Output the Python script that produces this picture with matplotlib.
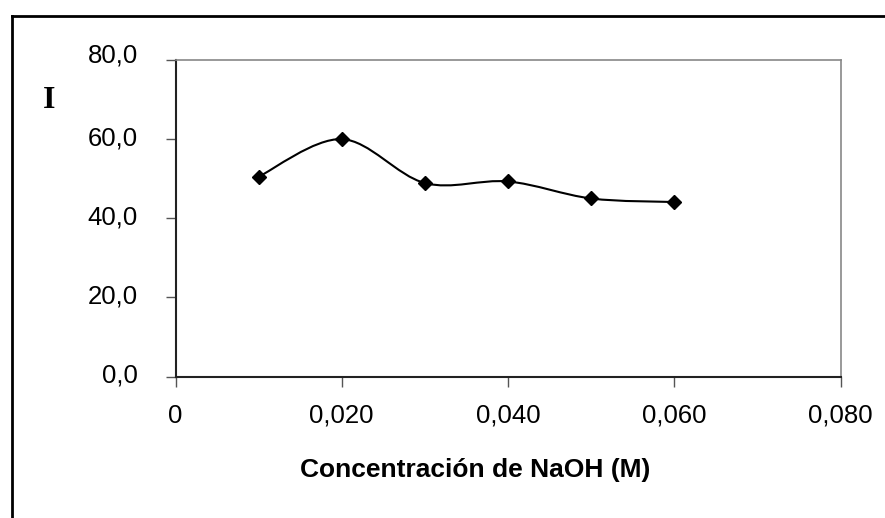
import numpy as np
import matplotlib
matplotlib.use('Agg')
import matplotlib.pyplot as plt
from matplotlib.path import Path
from matplotlib.patches import PathPatch
from matplotlib.lines import Line2D
import matplotlib.transforms as mtransforms

# data
conc = [0.010, 0.020, 0.030, 0.040, 0.050, 0.060]
inten = [50.5, 60.0, 48.9, 49.3, 45.0, 44.1]

xticks = [0.0, 0.02, 0.04, 0.06, 0.08]
xticklabels = ['0', '0,020', '0,040', '0,060', '0,080']
yticks = [0, 20, 40, 60, 80]
yticklabels = ['0,0', '20,0', '40,0', '60,0', '80,0']

plt.rcParams['font.family'] = ['Liberation Sans', 'DejaVu Sans']

W, H = 885, 518
fig = plt.figure(figsize=(W/100, H/100), dpi=100)
ax = fig.add_axes([175.5/W, 1-376.5/H, (840.5-175.5)/W, (376.5-60)/H])

# smoothed line (Excel style) as cubic bezier through the points
x = np.asarray(conc); y = np.asarray(inten)
px = np.concatenate([[x[0]], x, [x[-1]]])
py = np.concatenate([[y[0]], y, [y[-1]]])
verts = [(x[0], y[0])]
codes = [Path.MOVETO]
for i in range(1, len(px)-2):
    c1 = (px[i] + (px[i+1]-px[i-1])/6, py[i] + (py[i+1]-py[i-1])/6)
    c2 = (px[i+1] - (px[i+2]-px[i])/6, py[i+1] - (py[i+2]-py[i])/6)
    verts += [c1, c2, (px[i+1], py[i+1])]
    codes += [Path.CURVE4]*3
ax.add_patch(PathPatch(Path(verts, codes), facecolor='none', edgecolor='black', lw=1.5, zorder=3))
ax.plot(conc, inten, linestyle='none', marker='D', ms=7, color='black', zorder=4)

ax.set_xlim(0, 0.08)
ax.set_ylim(0, 80)
ax.set_xticks(xticks)
ax.set_xticklabels(xticklabels)
ax.set_yticks(yticks)
ax.set_yticklabels(yticklabels)
ax.tick_params(axis='both', direction='out', length=7.5, width=1, color='#555555', labelsize=18.5)
ax.tick_params(axis='x', pad=12)
ax.tick_params(axis='y', pad=19.5)
# y labels sit a bit above their ticks in the reference
for lab in ax.get_yticklabels():
    up = 7 if lab.get_text() == '80,0' else 3
    off = mtransforms.ScaledTranslation(0, up/100, fig.dpi_scale_trans)
    lab.set_transform(lab.get_transform() + off)

for s in ['left', 'bottom']:
    ax.spines[s].set_color('#222222')
    ax.spines[s].set_linewidth(1.5)
for s in ['top', 'right']:
    ax.spines[s].set_color('#888888')
    ax.spines[s].set_linewidth(1.2)
    ax.spines[s].set_linestyle((0, (1, 1)))

fig.text(475.5/W, 1-477/H, 'Concentración de NaOH (M)', fontsize=19, fontweight='bold',
         ha='center', va='baseline')
fig.text(49/W, 1-107.5/H, 'I', family='Liberation Serif', fontweight='bold', fontsize=23,
         ha='center', va='baseline')

# outer frame, cut off at right and bottom
fig.add_artist(Line2D([12/W, 1.0], [1-16/H, 1-16/H], color='black', lw=2))
fig.add_artist(Line2D([12/W, 12/W], [1-16/H, 0.0], color='black', lw=2))

plt.savefig('out.png', dpi=100)
